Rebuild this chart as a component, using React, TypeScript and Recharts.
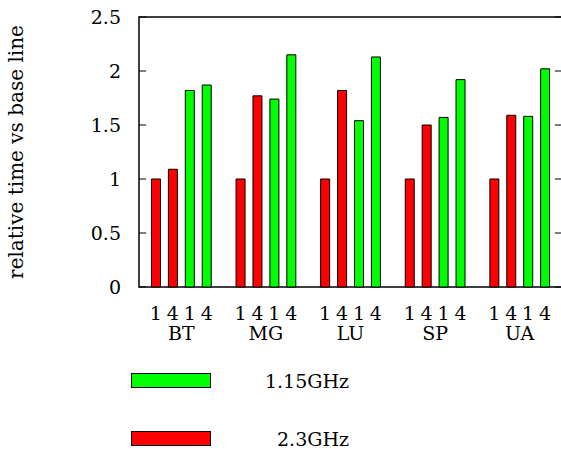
import React from "react";
import {
  BarChart,
  Bar,
  XAxis,
  YAxis,
  Legend,
  ReferenceArea,
  ReferenceLine,
} from "recharts";

// ---- data ----
const benchmarks = ["BT", "MG", "LU", "SP", "UA"];
const procCounts = ["1", "4"];
const ghz23 = [
  [1.0, 1.09],
  [1.0, 1.77],
  [1.0, 1.82],
  [1.0, 1.5],
  [1.0, 1.59],
];
const ghz115 = [
  [1.82, 1.87],
  [1.74, 2.15],
  [1.54, 2.13],
  [1.57, 1.92],
  [1.58, 2.02],
];
const yTicks = [0, 0.5, 1, 1.5, 2, 2.5];
const seriesNames = { red: "2.3GHz", green: "1.15GHz" };

const RED = "#ff0000";
const GREEN = "#00ff00";
const FONT = "'DejaVu Serif', serif";
const FS = 19;

// slots: each benchmark occupies 5 slots (4 bars + gap)
type Row = { pos: number; label: string; red?: number; green?: number };
const rows: Row[] = [];
benchmarks.forEach((_, g) => {
  procCounts.forEach((p, k) => {
    rows.push({ pos: g * 5 + k, label: p, red: ghz23[g][k] });
  });
  procCounts.forEach((p, k) => {
    rows.push({ pos: g * 5 + 2 + k, label: p, green: ghz115[g][k] });
  });
});
const barTicks = rows.map((r) => r.pos);
const groupTicks = benchmarks.map((_, g) => g * 5 + 1.5);
const X_DOMAIN: [number, number] = [-1, 24];

const renderLegend = () => {
  const items = [
    { name: seriesNames.green, color: GREEN },
    { name: seriesNames.red, color: RED },
  ];
  return (
    <svg width={400} height={90} style={{ display: "block" }}>
      {items.map((it, i) => (
        <g key={it.name}>
          <rect
            x={131.5}
            y={13.5 + i * 58}
            width={79}
            height={14}
            fill={it.color}
            stroke="#000"
            strokeWidth={1}
          />
          <text
            x={349}
            y={20.5 + i * 58}
            textAnchor="end"
            dominantBaseline="central"
            fontFamily={FONT}
            fontSize={FS}
            fill="#000"
          >
            {it.name}
          </text>
        </g>
      ))}
    </svg>
  );
};

export default function App() {
  return (
    <div
      style={{
        position: "absolute",
        left: 0,
        top: 0,
        width: 561,
        height: 449,
        overflow: "hidden",
        background: "#fff",
      }}
    >
      <BarChart
        width={565}
        height={449}
        data={rows}
        margin={{ top: 17, right: 3, left: 0, bottom: 102 }}
        barSize={9}
      >
        <XAxis
          dataKey="pos"
          type="number"
          domain={X_DOMAIN}
          allowDataOverflow
          ticks={barTicks}
          interval={0}
          tickFormatter={(v: number) => {
            const r = rows.find((x) => x.pos === v);
            return r ? r.label : "";
          }}
          axisLine={false}
          tickLine={false}
          tickSize={0}
          tickMargin={20}
          height={30}
          tick={{ fill: "#000", fontSize: FS, fontFamily: FONT }}
        />
        <XAxis
          xAxisId="grp"
          dataKey="pos"
          type="number"
          domain={X_DOMAIN}
          allowDataOverflow
          ticks={groupTicks}
          interval={0}
          tickFormatter={(v: number) => benchmarks[Math.round((v - 1.5) / 5)]}
          axisLine={false}
          tickLine={false}
          tickSize={0}
          tickMargin={10}
          height={30}
          tick={{ fill: "#000", fontSize: FS, fontFamily: FONT }}
        />
        <YAxis
          type="number"
          domain={[0, 2.5]}
          ticks={yTicks}
          interval={0}
          width={139}
          axisLine={false}
          tickLine={false}
          tickSize={0}
          tickMargin={18}
          tick={{ fill: "#000", fontSize: FS, fontFamily: FONT }}
          label={{
            value: "relative time vs base line",
            angle: -90,
            position: "insideLeft",
            offset: 16,
            style: {
              textAnchor: "middle",
              fill: "#000",
              fontSize: 20,
              fontFamily: FONT,
            },
          }}
        />
        <Legend
          layout="horizontal"
          verticalAlign="middle"
          align="center"
          content={renderLegend}
          wrapperStyle={{ left: 0, top: 360, width: 400, height: 90 }}
        />
        <Bar
          dataKey="red"
          name={seriesNames.red}
          stackId="s"
          fill={RED}
          stroke="#000"
          strokeWidth={1}
          isAnimationActive={false}
        />
        <Bar
          dataKey="green"
          name={seriesNames.green}
          stackId="s"
          fill={GREEN}
          stroke="#000"
          strokeWidth={1}
          isAnimationActive={false}
        />
        <ReferenceArea
          x1={X_DOMAIN[0]}
          x2={X_DOMAIN[1]}
          y1={0}
          y2={2.5}
          fill="none"
          stroke="#000"
          strokeWidth={1.5}
          ifOverflow="visible"
        />
        {yTicks.map((t) => (
          <ReferenceLine
            key={"l" + t}
            segment={[
              { x: X_DOMAIN[0], y: t },
              { x: X_DOMAIN[0] + 0.42, y: t },
            ]}
            stroke="#000"
            strokeWidth={1}
          />
        ))}
        {yTicks.map((t) => (
          <ReferenceLine
            key={"r" + t}
            segment={[
              { x: X_DOMAIN[1], y: t },
              { x: X_DOMAIN[1] - 0.42, y: t },
            ]}
            stroke="#000"
            strokeWidth={1}
          />
        ))}
      </BarChart>
    </div>
  );
}
